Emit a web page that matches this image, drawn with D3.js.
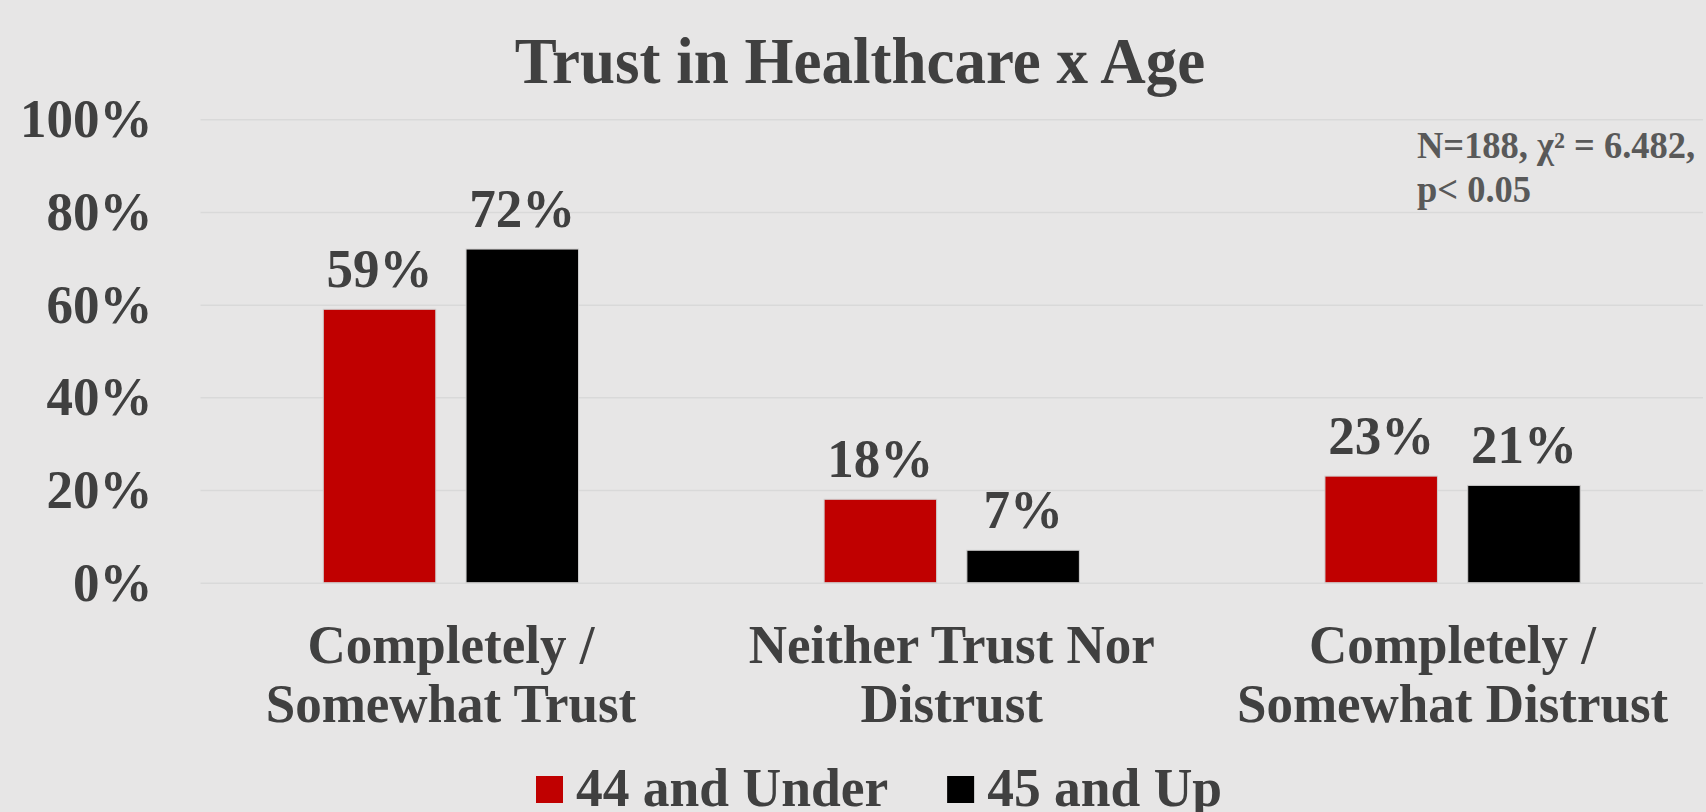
<!DOCTYPE html>
<html>
<head>
<meta charset="utf-8">
<script src="https://cdn.jsdelivr.net/npm/d3@7"></script>
<style>
  html, body { margin: 0; padding: 0; background: #e7e6e6; }
  svg { display: block; }
  text { font-family: "Liberation Serif", "Times New Roman", serif; font-weight: bold; }
</style>
</head>
<body>
<svg id="chart" width="1706" height="812"></svg>
<script>
// ---- data ----
const title = "Trust in Healthcare x Age";
const categories = ["Completely /\nSomewhat Trust", "Neither Trust Nor\nDistrust", "Completely /\nSomewhat Distrust"];
const seriesNames = ["44 and Under", "45 and Up"];
const under44 = [0.59, 0.18, 0.23];
const up45 = [0.72, 0.07, 0.21];
const yTicks = [0, 0.2, 0.4, 0.6, 0.8, 1.0];
const seriesColors = ["#c00000", "#000000"];
const annotationLines = ["N=188, \u03c7\u00b2 = 6.482,", "p< 0.05"];

// ---- layout ----
const W = 1706, H = 812;
const plot = { left: 200.5, right: 1703, top: 119.3, bottom: 582.7 };
const textColor = "#404040";
const SY = 1.04; // slight vertical stretch of glyphs seen in the reference

function stretch(sel, baseY) {
  sel.attr("transform", `translate(0,${baseY}) scale(1,${SY}) translate(0,${-baseY})`);
}

const svg = d3.select("#chart");
svg.append("rect").attr("width", W).attr("height", H).attr("fill", "#e7e6e6");

const x0 = d3.scaleBand().domain(categories).range([plot.left, plot.right]).padding(0);
const x1 = d3.scaleBand().domain(seriesNames).range([0, x0.bandwidth()])
  .paddingInner(0.212).paddingOuter(0.86);
const y = d3.scaleLinear().domain([0, 1]).range([plot.bottom, plot.top]);

const seriesValues = [under44, up45];
const rows = [];
categories.forEach((c, i) => {
  seriesNames.forEach((s, j) => rows.push({ cat: c, series: s, value: seriesValues[j][i], color: seriesColors[j] }));
});

// gridlines + y axis
const yAxis = d3.axisLeft(y)
  .tickValues(yTicks)
  .tickFormat(d3.format(".0%"))
  .tickSizeInner(-(plot.right - plot.left))
  .tickSizeOuter(0)
  .tickPadding(48);
const gy = svg.append("g").attr("transform", `translate(${plot.left},0)`).call(yAxis);
gy.select(".domain").remove();
gy.selectAll(".tick line").attr("stroke", "#d9d9d9").attr("stroke-width", 1.5);
gy.selectAll(".tick text")
  .attr("fill", textColor)
  .style("font-size", "53px")
  .style("font-family", '"Liberation Serif", "Times New Roman", serif')
  .style("font-weight", "bold")
  .attr("dy", "0.32em")
  .attr("transform", `scale(1,${SY})`);

// bars
const g = svg.append("g");
g.selectAll("rect.bar").data(rows).join("rect")
  .attr("class", "bar")
  .attr("x", d => x0(d.cat) + x1(d.series))
  .attr("y", d => y(d.value))
  .attr("width", x1.bandwidth())
  .attr("height", d => y(0) - y(d.value))
  .attr("fill", d => d.color)
  .attr("stroke", "#d0cfcf")
  .attr("stroke-width", 1);

// value labels
g.selectAll("text.val").data(rows).join("text")
  .attr("class", "val")
  .attr("x", d => x0(d.cat) + x1(d.series) + x1.bandwidth() / 2)
  .attr("y", d => y(d.value) - 22.5)
  .attr("text-anchor", "middle")
  .attr("fill", textColor)
  .style("font-size", "53px")
  .text(d => d3.format(".0%")(d.value))
  .each(function(d) { stretch(d3.select(this), y(d.value) - 22.5); });

// category labels
const catY = 663.3;
const cl = svg.append("g").selectAll("text").data(categories).join("text")
  .attr("x", d => x0(d) + x0.bandwidth() / 2)
  .attr("y", catY)
  .attr("text-anchor", "middle")
  .attr("fill", textColor)
  .style("font-size", "53px");
cl.each(function(d) {
  const t = d3.select(this);
  d.split("\n").forEach((line, i) => {
    t.append("tspan").attr("x", x0(d) + x0.bandwidth() / 2).attr("dy", i === 0 ? 0 : 59 / SY).text(line);
  });
  stretch(t, catY);
});

// title
const tt = svg.append("text")
  .attr("x", 860).attr("y", 83.3)
  .attr("text-anchor", "middle")
  .attr("fill", textColor)
  .style("font-size", "63px")
  .text(title);
stretch(tt, 83.3);

// annotation
const ann = svg.append("text").attr("x", 1417).attr("y", 158).attr("fill", "#595959").style("font-size", "36.5px");
annotationLines.forEach((line, i) => {
  ann.append("tspan").attr("x", 1417).attr("dy", i === 0 ? 0 : 43.7 / SY).text(line);
});
stretch(ann, 158);

// legend
const legend = svg.append("g");
let lx = 536;
seriesNames.forEach((s, j) => {
  legend.append("rect").attr("x", lx).attr("y", 776).attr("width", 27).attr("height", 27).attr("fill", seriesColors[j]);
  const t = legend.append("text").attr("x", lx + 40).attr("y", 806).attr("fill", textColor)
    .style("font-size", "53.5px").text(s);
  stretch(t, 806);
  lx = lx + 40 + t.node().getComputedTextLength() + 59;
});
</script>
</body>
</html>
